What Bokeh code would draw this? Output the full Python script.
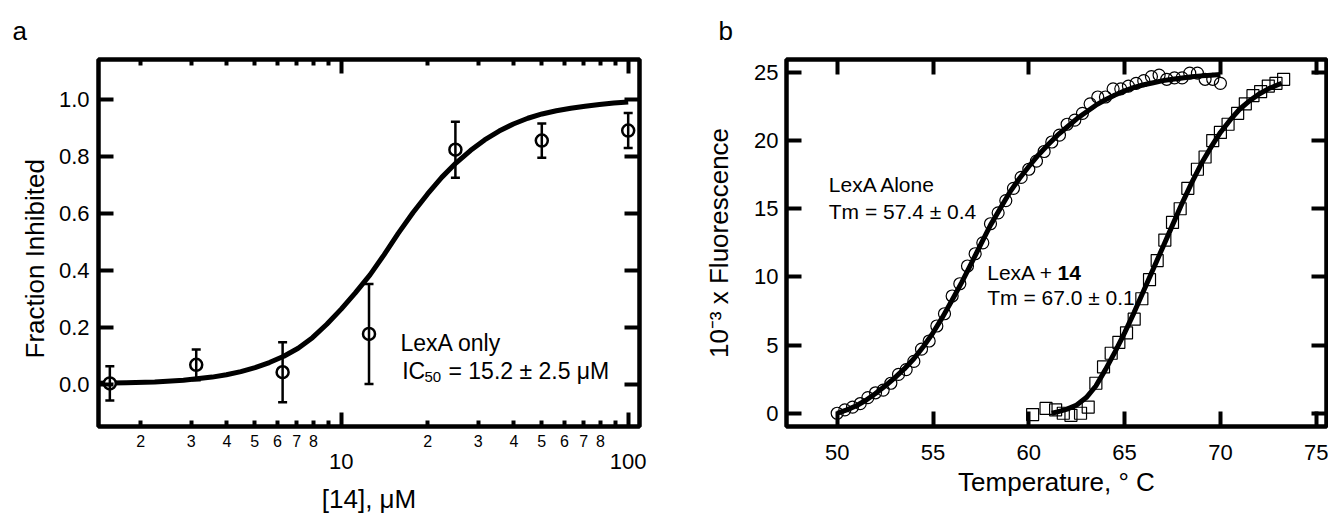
from bokeh.plotting import figure
from bokeh.models import (Range1d, LinearAxis, LogAxis, FixedTicker, Label, Title,
                          Whisker, TeeHead, ColumnDataSource, CustomJSTickFormatter)
from bokeh.layouts import row
from bokeh.embed import file_html
from bokeh.resources import INLINE

FONT = "Liberation Sans"

# ---------------- Panel a data ----------------
conc = [1.5625, 3.125, 6.25, 12.5, 25.0, 50.0, 100.0]
frac = [0.005, 0.070, 0.044, 0.178, 0.823, 0.855, 0.890]
frac_err = [0.060, 0.054, 0.105, 0.175, 0.098, 0.060, 0.061]
fit_conc = [1.41, 1.78, 2.24, 2.82, 3.55, 3.98, 4.47, 5.01, 5.62, 6.31, 7.08,
            7.94, 8.91, 10.0, 11.2, 12.6, 14.1, 15.8, 17.8, 20.0, 22.4, 25.1,
            28.2, 31.6, 35.5, 39.8, 44.7, 50.1, 56.2, 63.1, 70.8, 79.4, 89.1,
            100.0]
fit_frac = [0.005, 0.007, 0.010, 0.016, 0.027, 0.035, 0.046, 0.060, 0.078,
            0.100, 0.128, 0.165, 0.212, 0.265, 0.322, 0.385, 0.455, 0.530,
            0.603, 0.668, 0.726, 0.776, 0.820, 0.857, 0.888, 0.913, 0.933,
            0.948, 0.959, 0.968, 0.975, 0.981, 0.986, 0.990]
a_y_ticks = [0.0, 0.2, 0.4, 0.6, 0.8, 1.0]
a_y_labels = ["0.0", "0.2", "0.4", "0.6", "0.8", "1.0"]
a_x_major = [10, 100]
a_x_major_labels = ["10", "100"]
a_x_minor = [2, 3, 4, 5, 6, 7, 8, 9, 20, 30, 40, 50, 60, 70, 80, 90]
a_x_minor_labels = ["2", "3", "4", "5", "6", "7", "8", "",
                    "2", "3", "4", "5", "6", "7", "8", ""]

# ---------------- Panel b data ----------------
alone_T = [50.0, 50.4, 50.8, 51.2, 51.6, 52.0, 52.4, 52.8, 53.2, 53.6, 54.0,
           54.4, 54.8, 55.2, 55.6, 56.0, 56.4, 56.8, 57.2, 57.6, 58.0, 58.4,
           58.8, 59.2, 59.6, 60.0, 60.4, 60.8, 61.2, 61.6, 62.0, 62.4, 62.8,
           63.2, 63.6, 64.0, 64.4, 64.8, 65.2, 65.6, 66.0, 66.4, 66.8, 67.2,
           67.6, 68.0, 68.4, 68.8, 69.2, 69.6, 70.0]
alone_F = [0.0, 0.25, 0.45, 0.7, 1.15, 1.5, 1.7, 2.2, 2.85, 3.2, 3.8,
           4.7, 5.3, 6.4, 7.3, 8.6, 9.5, 10.8, 11.7, 12.5, 13.9, 14.7,
           15.6, 16.5, 17.3, 17.9, 18.5, 19.2, 19.9, 20.4, 21.2, 21.5, 22.0,
           22.7, 23.2, 23.2, 23.8, 23.8, 24.0, 24.2, 24.4, 24.7, 24.8, 24.5,
           24.6, 24.6, 24.95, 24.95, 24.5, 24.5, 24.2]
alone_fit_T = [50.0, 50.5, 51.0, 51.5, 52.0, 52.5, 53.0, 53.5, 54.0, 54.5,
               55.0, 55.5, 56.0, 56.5, 57.0, 57.5, 58.0, 58.5, 59.0, 59.5,
               60.0, 60.5, 61.0, 61.5, 62.0, 62.5, 63.0, 63.5, 64.0, 64.5,
               65.0, 65.5, 66.0, 66.5, 67.0, 67.5, 68.0, 68.5, 69.0, 69.5, 70.0]
alone_fit_F = [0.0, 0.25, 0.55, 0.95, 1.45, 2.0, 2.6, 3.25, 4.0, 4.9,
               5.9, 7.05, 8.3, 9.6, 11.0, 12.4, 13.8, 15.0, 16.2, 17.2,
               18.1, 18.95, 19.7, 20.4, 21.0, 21.6, 22.1, 22.6, 23.0, 23.35,
               23.65, 23.9, 24.1, 24.25, 24.4, 24.5, 24.6, 24.68, 24.75, 24.8, 24.85]

cmpd_T = [60.2, 60.9, 61.4, 61.8, 62.2, 62.7, 63.1, 63.5, 63.9, 64.3, 64.7,
          65.1, 65.5, 65.9, 66.3, 66.7, 67.1, 67.5, 67.9, 68.3, 68.8, 69.2,
          69.6, 70.0, 70.4, 70.9, 71.3, 71.7, 72.1, 72.5, 72.9, 73.3]
cmpd_F = [-0.1, 0.35, 0.25, 0.0, -0.15, 0.0, 0.45, 2.2, 3.4, 4.4, 5.2,
          5.9, 6.9, 8.4, 9.8, 11.2, 12.7, 14.0, 15.0, 16.5, 17.9, 18.8,
          20.0, 20.6, 21.2, 22.0, 22.7, 23.3, 23.6, 24.0, 24.2, 24.5]
cmpd_fit_T = [61.2, 61.5, 62.0, 62.5, 63.0, 63.5, 64.0, 64.5, 65.0, 65.5,
              66.0, 66.5, 67.0, 67.5, 68.0, 68.5, 69.0, 69.5, 70.0, 70.5,
              71.0, 71.5, 72.0, 72.5, 73.0, 73.2]
cmpd_fit_F = [0.0, 0.1, 0.3, 0.6, 1.15, 2.0, 3.2, 4.5, 5.9, 7.4,
              9.0, 10.6, 12.2, 13.8, 15.4, 16.9, 18.3, 19.5, 20.6, 21.5,
              22.3, 22.9, 23.4, 23.8, 24.1, 24.2]
b_x_ticks = [50, 55, 60, 65, 70, 75]
b_x_labels = ["50", "55", "60", "65", "70", "75"]
b_y_ticks = [0, 5, 10, 15, 20, 25]
b_y_labels = ["0", "5", "10", "15", "20", "25"]

BLANK = CustomJSTickFormatter(code="return ''")


def style_axis(ax, tick_in=15, minor_in=0, font="22px", standoff=8, show=True):
    ax.axis_line_color = None
    ax.major_tick_in = tick_in
    ax.major_tick_out = 0
    ax.minor_tick_in = minor_in
    ax.minor_tick_out = 0
    ax.major_tick_line_width = 4
    ax.minor_tick_line_width = 4
    ax.major_tick_line_color = "black"
    ax.minor_tick_line_color = "black"
    ax.major_label_text_font = FONT
    ax.major_label_text_color = "black"
    ax.major_label_text_font_size = font if show else "10px"
    ax.major_label_standoff = standoff if show else 0
    if not show:
        ax.formatter = BLANK
    ax.axis_label_text_font = FONT
    ax.axis_label_text_font_style = "normal"
    ax.axis_label_text_color = "black"
    ax.axis_label_text_font_size = "26px"


def lab(p, x, y, text, size, bold=False):
    p.add_layout(Label(x=x, y=y, text=text, text_font=FONT,
                       text_font_size=size, text_color="black",
                       text_font_style="bold" if bold else "normal",
                       text_align="left", text_baseline="alphabetic"))


def title(p, text, side, offset, standoff, align="left"):
    p.add_layout(Title(text=text, align=align, offset=offset, standoff=standoff,
                       text_font=FONT, text_font_size="26px",
                       text_font_style="normal", text_color="black"), side)


# ======================= Panel a =======================
pa = figure(width=668, height=516, x_axis_type="log", title=None,
            x_range=Range1d(1.4267, 109.5), y_range=Range1d(-0.1459, 1.1386),
            x_axis_location=None, y_axis_location=None,
            output_backend="svg", toolbar_location=None,
            min_border_left=98, min_border_right=29,
            min_border_top=58, min_border_bottom=90)
pa.grid.visible = False
pa.outline_line_color = "black"
pa.outline_line_width = 4.5

minor_over = dict(zip([float(v) for v in a_x_minor], a_x_minor_labels))
major_over = dict(zip([float(v) for v in a_x_major], a_x_major_labels))

ax_b1 = LogAxis(ticker=FixedTicker(ticks=a_x_minor, minor_ticks=a_x_major),
                major_label_overrides=minor_over)
style_axis(ax_b1, tick_in=6, minor_in=14, font="16px", standoff=8)
pa.add_layout(ax_b1, "below")
ax_b2 = LogAxis(ticker=FixedTicker(ticks=a_x_major, minor_ticks=[]),
                major_label_overrides=major_over, axis_label="[14], \u03bcM")
style_axis(ax_b2, tick_in=0, font="22px", standoff=4)
ax_b2.major_tick_line_color = None
ax_b2.axis_label_standoff = 12
pa.add_layout(ax_b2, "below")
ax_t = LogAxis(ticker=FixedTicker(ticks=a_x_minor, minor_ticks=a_x_major))
style_axis(ax_t, tick_in=6, minor_in=14, show=False)
pa.add_layout(ax_t, "above")
title(pa, "a", "above", -86, 27)

ya_over = dict(zip(a_y_ticks, a_y_labels))
ax_l = LinearAxis(ticker=FixedTicker(ticks=a_y_ticks, minor_ticks=[]),
                  major_label_overrides=ya_over)
style_axis(ax_l, tick_in=15, font="22px", standoff=9)
pa.add_layout(ax_l, "left")
title(pa, "Fraction Inhibited", "left", 68, 11, align="left")
ax_r = LinearAxis(ticker=FixedTicker(ticks=a_y_ticks, minor_ticks=[]))
style_axis(ax_r, tick_in=15, show=False)
pa.add_layout(ax_r, "right")

pa.line(fit_conc, fit_frac, line_width=5, line_color="black", line_join="round")
src_a = ColumnDataSource(dict(
    x=conc, y=frac,
    upper=[v + e for v, e in zip(frac, frac_err)],
    lower=[v - e for v, e in zip(frac, frac_err)]))
wh = Whisker(base="x", upper="upper", lower="lower", source=src_a,
             line_width=2.5, line_color="black", level="glyph",
             upper_head=TeeHead(size=9, line_width=2.5, line_color="black"),
             lower_head=TeeHead(size=9, line_width=2.5, line_color="black"))
pa.add_layout(wh)
pa.scatter("x", "y", source=src_a, marker="circle", size=12,
           fill_color="white", line_color="black", line_width=2.5)

lab(pa, 16.09, 0.1462, "LexA only", "23px")
lab(pa, 16.31, 0.0471, "IC", "23px")
lab(pa, 19.5, 0.0286, "50", "15px")
lab(pa, 23.65, 0.0471, "= 15.2 \u00b1 2.5 \u03bcM", "23px")

# ======================= Panel b =======================
pb = figure(width=660, height=516, title=None,
            x_range=Range1d(47.354, 75.537), y_range=Range1d(-0.973, 25.951),
            x_axis_location=None, y_axis_location=None,
            output_backend="svg", toolbar_location=None,
            min_border_left=118, min_border_right=2,
            min_border_top=58, min_border_bottom=90)
pb.grid.visible = False
pb.outline_line_color = "black"
pb.outline_line_width = 4.5

bx_over = dict(zip([float(v) for v in b_x_ticks], b_x_labels))
by_over = dict(zip([float(v) for v in b_y_ticks], b_y_labels))
bx = LinearAxis(ticker=FixedTicker(ticks=b_x_ticks, minor_ticks=[]),
                major_label_overrides=bx_over, axis_label="Temperature, \u00b0 C")
style_axis(bx, tick_in=15, font="22px", standoff=18)
bx.axis_label_standoff = 4
pb.add_layout(bx, "below")
bt = LinearAxis(ticker=FixedTicker(ticks=b_x_ticks, minor_ticks=[]))
style_axis(bt, tick_in=15, show=False)
pb.add_layout(bt, "above")
title(pb, "b", "above", -68, 27)
byl = LinearAxis(ticker=FixedTicker(ticks=b_y_ticks, minor_ticks=[]),
                 major_label_overrides=by_over,
                 axis_label="10\u207b\u00b3 x Fluorescence")
style_axis(byl, tick_in=15, font="22px", standoff=8)
byl.axis_label_standoff = 17
pb.add_layout(byl, "left")
byr = LinearAxis(ticker=FixedTicker(ticks=b_y_ticks, minor_ticks=[]))
style_axis(byr, tick_in=15, show=False)
pb.add_layout(byr, "right")

pb.scatter(alone_T, alone_F, marker="circle", size=12, fill_color=None,
           line_color="black", line_width=1.2)
pb.scatter(cmpd_T, cmpd_F, marker="square", size=12, fill_color=None,
           line_color="black", line_width=1.2)
pb.line(alone_fit_T, alone_fit_F, line_width=5, line_color="black", line_join="round")
pb.line(cmpd_fit_T, cmpd_fit_F, line_width=5, line_color="black", line_join="round")

lab(pb, 49.56, 16.78, "LexA Alone", "21px")
lab(pb, 49.56, 14.83, "Tm = 57.4 \u00b1 0.4", "21px")
lab(pb, 57.83, 10.32, "LexA +", "21px")
lab(pb, 61.5, 10.32, "14", "21px", bold=True)
lab(pb, 57.83, 8.49, "Tm = 67.0 \u00b1 0.1", "21px")

layout = row(pa, pb)
open("out.html", "w").write(file_html(layout, INLINE))
